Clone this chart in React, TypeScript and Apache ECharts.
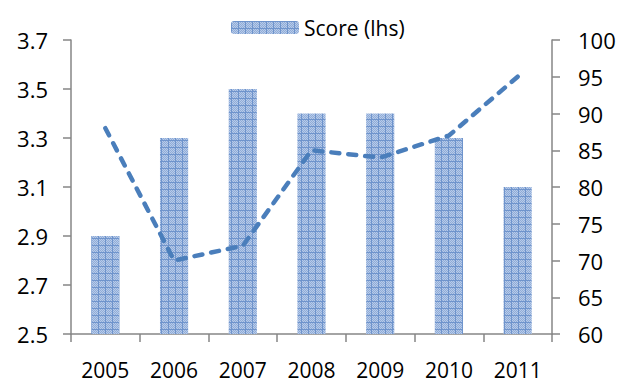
import React, { useEffect, useRef } from "react";
import * as echarts from "echarts";

// Category labels and series values
const years = ["2005", "2006", "2007", "2008", "2009", "2010", "2011"];
const scores = [2.9, 3.3, 3.5, 3.4, 3.4, 3.3, 3.1];
const ranks = [88, 70, 72, 85, 84, 87, 95];

// Left axis range (score), drawn relative to its floor so ticks start at the floor
const scoreFloor = 2.5;
const scoreCeil = 3.7;
const scoreStep = 0.2;

// Right axis range
const rankMin = 60;
const rankMax = 100;
const rankStep = 5;

const FONT = "'Open Sans', 'Liberation Sans', sans-serif";
const AXIS_GREY = "#868686";
const LINE_BLUE = "#4a7ebb";

// Small checkered tile with a darker grid, used as the bar fill
function makeHatchTile(): HTMLCanvasElement {
  const size = 7;
  const c = document.createElement("canvas");
  c.width = size;
  c.height = size;
  const ctx = c.getContext("2d")!;
  for (let y = 0; y < size; y++) {
    for (let x = 0; x < size; x++) {
      ctx.fillStyle = (x + y) % 2 === 0 ? "#b9cbe8" : "#8eacd9";
      ctx.fillRect(x, y, 1, 1);
    }
  }
  ctx.fillStyle = "#6f94cc";
  ctx.fillRect(0, 0, size, 1);
  ctx.fillRect(0, 0, 1, size);
  return c;
}

export default function App() {
  const ref = useRef<HTMLDivElement>(null);

  useEffect(() => {
    if (!ref.current) return;
    const chart = echarts.init(ref.current, undefined, { renderer: "svg" });
    const tile = makeHatchTile();
    const hatch: any = { image: tile, repeat: "repeat" };

    const labelStyle = { color: "#000", fontFamily: FONT, fontSize: 22 };
    const axisLine = { show: true, lineStyle: { color: AXIS_GREY, width: 1.5 } };
    const axisTick = { show: true, inside: false, length: 8, lineStyle: { color: AXIS_GREY, width: 1.5 } };

    chart.setOption({
      animation: false,
      backgroundColor: "#fff",
      legend: {
        data: ["Score (lhs)"],
        left: 226,
        top: 12,
        itemWidth: 68,
        itemHeight: 13,
        itemGap: 6,
        textStyle: { color: "#000", fontFamily: FONT, fontSize: 21 },
      },
      grid: { left: 71, right: 68, top: 40, bottom: 53 },
      xAxis: {
        type: "category",
        data: years,
        boundaryGap: true,
        axisLine,
        axisTick: { ...axisTick, alignWithLabel: false },
        axisLabel: { ...labelStyle, fontSize: 21, margin: 27, lineHeight: 18 },
        splitLine: { show: false },
      },
      yAxis: [
        {
          type: "value",
          min: 0,
          max: +(scoreCeil - scoreFloor).toFixed(1),
          interval: scoreStep,
          axisLine,
          axisTick,
          splitLine: { show: false },
          axisLabel: {
            ...labelStyle,
            margin: 23,
            formatter: (v: number) => (v + scoreFloor).toFixed(1),
          },
        },
        {
          type: "value",
          min: rankMin,
          max: rankMax,
          interval: rankStep,
          position: "right",
          axisLine,
          axisTick,
          splitLine: { show: false },
          axisLabel: { ...labelStyle, margin: 26 },
        },
      ],
      series: [
        {
          name: "Score (lhs)",
          type: "bar",
          yAxisIndex: 0,
          barWidth: "41%",
          data: scores.map((s) => +(s - scoreFloor).toFixed(2)),
          itemStyle: { color: hatch },
        },
        {
          name: "Rank (rhs)",
          type: "line",
          yAxisIndex: 1,
          data: ranks,
          symbol: "none",
          lineStyle: { color: LINE_BLUE, width: 4.5, type: [8, 9], cap: "round" },
          itemStyle: { color: LINE_BLUE },
        },
      ],
    });

    return () => chart.dispose();
  }, []);

  return <div ref={ref} style={{ width: 620, height: 387, position: "absolute", left: 0, top: 0 }} />;
}
